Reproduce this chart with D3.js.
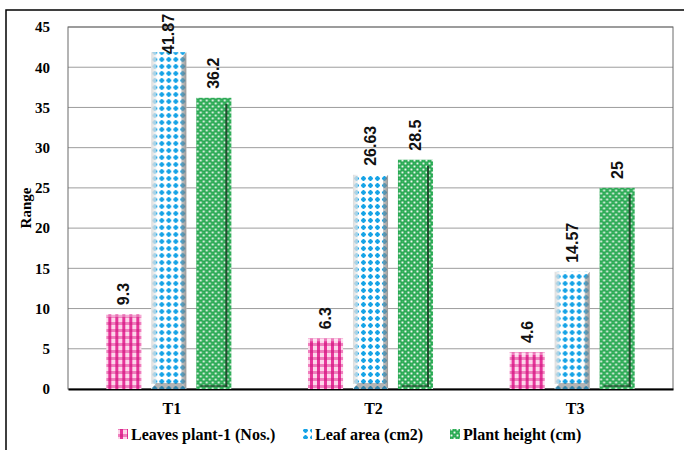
<!DOCTYPE html>
<html>
<head>
<meta charset="utf-8">
<script src="https://cdn.jsdelivr.net/npm/d3@7"></script>
<style>
  html, body { margin: 0; padding: 0; background: #fff; }
  svg { display: block; }
</style>
</head>
<body>
<script>
// Treatments and measured growth ranges
const categories = ["T1", "T2", "T3"];
const seriesNames = ["Leaves plant-1 (Nos.)", "Leaf area (cm2)", "Plant height (cm)"];
const leavesPerPlant = [9.3, 6.3, 4.6];
const leafArea = [41.87, 26.63, 14.57];
const plantHeight = [36.2, 28.5, 25];
const yTicks = [0, 5, 10, 15, 20, 25, 30, 35, 40, 45];
const yLabel = "Range";

const seriesValues = [leavesPerPlant, leafArea, plantHeight];
const patternIds = ["pat-pink", "pat-blue", "pat-green"];

const W = 684, H = 450;
const margin = { left: 68, right: 11, top: 27, bottom: 61 };
const plotW = W - margin.left - margin.right;
const plotH = H - margin.top - margin.bottom;

const svg = d3.select("body").append("svg")
  .attr("width", W).attr("height", H);

// ---- fill patterns for the bars ----
const defs = svg.append("defs");

// pink plaid weave
const pPink = defs.append("pattern").attr("id", "pat-pink")
  .attr("patternUnits", "userSpaceOnUse").attr("width", 7).attr("height", 7);
pPink.append("rect").attr("width", 7).attr("height", 7).attr("fill", "#fcd6ea");
pPink.append("rect").attr("x", 0).attr("y", 0).attr("width", 7).attr("height", 3).attr("fill", "#f07dbd");
pPink.append("rect").attr("x", 2).attr("y", 0).attr("width", 3).attr("height", 7).attr("fill", "#e6349a");
pPink.append("rect").attr("x", 2).attr("y", 0).attr("width", 3).attr("height", 3).attr("fill", "#d92a8c");

// blue plus-shaped dots on white
const pBlue = defs.append("pattern").attr("id", "pat-blue")
  .attr("patternUnits", "userSpaceOnUse").attr("width", 7).attr("height", 7);
pBlue.append("rect").attr("width", 7).attr("height", 7).attr("fill", "#ffffff");
pBlue.append("rect").attr("x", 2.5).attr("y", 1).attr("width", 2).attr("height", 5).attr("fill", "#16a3e6");
pBlue.append("rect").attr("x", 1).attr("y", 2.5).attr("width", 5).attr("height", 2).attr("fill", "#16a3e6");
pBlue.append("rect").attr("x", 2).attr("y", 2).attr("width", 3).attr("height", 3).attr("fill", "#16a3e6");

// green mesh with small white holes
const pGreen = defs.append("pattern").attr("id", "pat-green")
  .attr("patternUnits", "userSpaceOnUse").attr("width", 6).attr("height", 6);
pGreen.append("rect").attr("width", 6).attr("height", 6).attr("fill", "#1fa04a");
pGreen.append("rect").attr("x", 0.5).attr("y", 0.5).attr("width", 2).attr("height", 2).attr("fill", "#f2fbf4");
pGreen.append("rect").attr("x", 3.5).attr("y", 3.5).attr("width", 2).attr("height", 2).attr("fill", "#f2fbf4");
pGreen.append("rect").attr("x", 3.5).attr("y", 0.5).attr("width", 2).attr("height", 2).attr("fill", "#3dbb64");
pGreen.append("rect").attr("x", 0.5).attr("y", 3.5).attr("width", 2).attr("height", 2).attr("fill", "#3dbb64");

// bevel shading gradients
const gLeft = defs.append("linearGradient").attr("id", "bevel-left");
gLeft.append("stop").attr("offset", "0%").attr("stop-color", "#d8d8d8").attr("stop-opacity", 0.9);
gLeft.append("stop").attr("offset", "100%").attr("stop-color", "#eeeeee").attr("stop-opacity", 0.6);
const gRight = defs.append("linearGradient").attr("id", "bevel-right");
gRight.append("stop").attr("offset", "0%").attr("stop-color", "#9a9a9a").attr("stop-opacity", 0.55);
gRight.append("stop").attr("offset", "100%").attr("stop-color", "#6e6e6e").attr("stop-opacity", 0.7);

// ---- outer frame ----
svg.append("path")
  .attr("d", `M6,${H + 2} L6,10 L${W + 2},10`)
  .attr("fill", "none").attr("stroke", "#000").attr("stroke-width", 1.5);

// ---- scales ----
const x0 = d3.scaleBand().domain(categories)
  .range([margin.left, margin.left + plotW])
  .paddingInner(0.38).paddingOuter(0.19);
const x1 = d3.scaleBand().domain(d3.range(seriesNames.length))
  .range([0, x0.bandwidth()])
  .paddingInner(0.22).paddingOuter(0);
const y = d3.scaleLinear().domain([0, 45]).range([margin.top + plotH, margin.top]);

// ---- gridlines and plot border ----
const grid = svg.append("g");
grid.selectAll("line").data(yTicks.filter(t => t > 0)).join("line")
  .attr("x1", margin.left).attr("x2", margin.left + plotW)
  .attr("y1", d => y(d)).attr("y2", d => y(d))
  .attr("stroke", "#9d9d9d").attr("stroke-width", 1);
svg.append("rect")
  .attr("x", margin.left).attr("y", margin.top)
  .attr("width", plotW).attr("height", plotH)
  .attr("fill", "none").attr("stroke", "#6b6b6b").attr("stroke-width", 1);

// ---- y axis ----
const yAxis = d3.axisLeft(y).tickValues(yTicks).tickSize(0).tickPadding(18);
const yG = svg.append("g").attr("transform", `translate(${margin.left},0)`).call(yAxis);
yG.select(".domain").remove();
yG.selectAll("text")
  .attr("font-family", "'Liberation Serif', 'Times New Roman', serif")
  .attr("font-weight", "bold").attr("font-size", 15).attr("fill", "#000");

svg.append("text")
  .attr("transform", `translate(31,${margin.top + plotH / 2}) rotate(-90)`)
  .attr("text-anchor", "middle")
  .attr("font-family", "'Liberation Serif', 'Times New Roman', serif")
  .attr("font-weight", "bold").attr("font-size", 15)
  .text(yLabel);

// ---- x axis ----
const xAxis = d3.axisBottom(x0).tickSize(0).tickPadding(14);
const xG = svg.append("g").attr("transform", `translate(0,${margin.top + plotH})`).call(xAxis);
xG.select(".domain").attr("stroke", "#000").attr("stroke-width", 2);
xG.selectAll("text")
  .attr("font-family", "'Liberation Serif', 'Times New Roman', serif")
  .attr("font-weight", "bold").attr("font-size", 16).attr("fill", "#000")
  .attr("dx", 3);

// ---- bars ----
const rows = [];
categories.forEach((c, ci) => {
  seriesValues.forEach((vals, si) => rows.push({ cat: c, s: si, v: vals[ci] }));
});

const bw = x1.bandwidth();
const barG = svg.append("g").selectAll("g").data(rows).join("g")
  .attr("transform", d => `translate(${x0(d.cat) + x1(d.s)},0)`);

barG.append("rect")
  .attr("x", 0).attr("y", d => y(d.v))
  .attr("width", bw).attr("height", d => y(0) - y(d.v))
  .attr("fill", d => `url(#${patternIds[d.s]})`);

// bevel for the leaf-area bars
const blue = barG.filter(d => d.s === 1);
blue.append("rect")
  .attr("x", 0).attr("y", d => y(d.v))
  .attr("width", 5).attr("height", d => y(0) - y(d.v) - 5)
  .attr("fill", "url(#bevel-left)");
blue.append("path")
  .attr("d", d => {
    const t = y(d.v), b = y(0);
    return `M${bw - 5},${t + 6} L${bw},${t} L${bw},${b} L${bw - 5},${b - 6} Z`;
  })
  .attr("fill", "url(#bevel-right)");
blue.append("path")
  .attr("d", d => {
    const b = y(0);
    return `M5,${b - 6} L${bw - 5},${b - 6} L${bw},${b} L0,${b} Z`;
  })
  .attr("fill", "#5a5a5a").attr("opacity", 0.45);

// inner shadow line for the plant-height bars
const green = barG.filter(d => d.s === 2);
green.append("rect")
  .attr("x", bw - 6).attr("y", d => y(d.v) + 6)
  .attr("width", 2).attr("height", d => y(0) - y(d.v) - 8)
  .attr("fill", "#1c3a24").attr("opacity", 0.85);
green.append("rect")
  .attr("x", 4).attr("y", d => y(0) - 4)
  .attr("width", bw - 8).attr("height", 2)
  .attr("fill", "#1c3a24").attr("opacity", 0.6);

// light top edge on the leaves bars
barG.filter(d => d.s === 0).append("rect")
  .attr("x", 0).attr("y", d => y(d.v))
  .attr("width", bw).attr("height", 3)
  .attr("fill", "#ffffff").attr("opacity", 0.35);

// ---- value labels ----
barG.append("text")
  .attr("transform", d => `translate(${bw / 2},${Math.max(y(d.v) - 9, 54)}) rotate(-90)`)
  .attr("text-anchor", "start")
  .attr("dominant-baseline", "central")
  .attr("font-family", "'Liberation Sans', Arial, sans-serif")
  .attr("font-weight", "bold").attr("font-size", 16).attr("fill", "#111")
  .text(d => d.v);

// ---- legend ----
const legendX = [118, 302, 450];
const leg = svg.append("g").selectAll("g").data(seriesNames).join("g")
  .attr("transform", (d, i) => `translate(${legendX[i]},434)`);
leg.append("rect")
  .attr("x", 0).attr("y", -5).attr("width", 10).attr("height", 10)
  .attr("fill", (d, i) => `url(#${patternIds[i]})`);
leg.append("text")
  .attr("x", 13).attr("y", 0)
  .attr("dominant-baseline", "central")
  .attr("font-family", "'Liberation Serif', 'Times New Roman', serif")
  .attr("font-weight", "bold").attr("font-size", 16).attr("fill", "#000")
  .text(d => d);
</script>
</body>
</html>
